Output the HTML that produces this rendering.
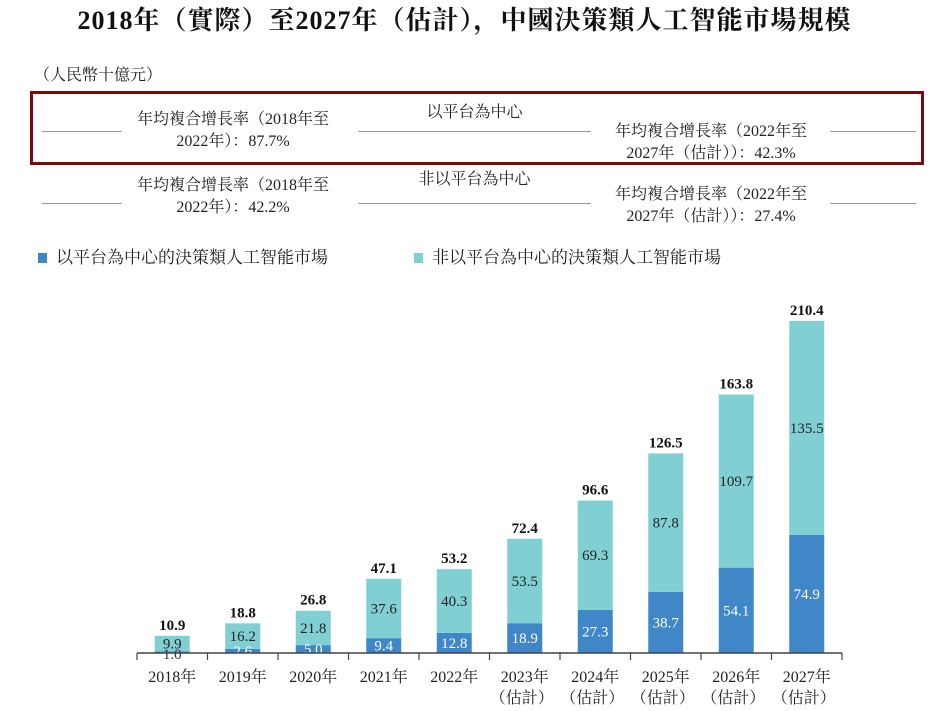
<!DOCTYPE html>
<html><head><meta charset="utf-8">
<style>
body{margin:0;width:929px;height:711px;background:#fff;overflow:hidden;font-family:"Liberation Serif","Noto Serif CJK SC",serif;color:#222;}
.a{position:absolute;white-space:nowrap;}
.ln{position:absolute;height:0;border-top:1px solid #999;}
.t{font-size:16px;line-height:22px;text-align:center;}
</style></head><body>
<div class="a" style="left:0;width:929px;top:0px;text-align:center;font-size:26px;letter-spacing:1px;font-weight:bold;color:#111;">2018年（實際）至2027年（估計），中國決策類人工智能市場規模</div>
<div class="a" style="left:34px;top:62px;font-size:16px;">（人民幣十億元）</div>
<div class="a" style="left:30px;top:91px;width:888px;height:68px;border:3px solid #7a0a0a;"></div>
<div class="ln" style="left:42px;width:80px;top:131px"></div>
<div class="ln" style="left:358px;width:233px;top:131px"></div>
<div class="ln" style="left:830px;width:86px;top:131px"></div>
<div class="ln" style="left:42px;width:80px;top:203px"></div>
<div class="ln" style="left:358px;width:233px;top:203px"></div>
<div class="ln" style="left:830px;width:86px;top:203px"></div>
<div class="a t" style="left:120px;width:226px;top:109px">年均複合增長率（2018年至<br>2022年）：87.7%</div>
<div class="a t" style="left:358px;width:233px;top:102px">以平台為中心</div>
<div class="a t" style="left:596px;width:230px;top:121px">年均複合增長率（2022年至<br>2027年（估計））：42.3%</div>
<div class="a t" style="left:120px;width:226px;top:175px">年均複合增長率（2018年至<br>2022年）：42.2%</div>
<div class="a t" style="left:358px;width:233px;top:169px">非以平台為中心</div>
<div class="a t" style="left:596px;width:230px;top:184px">年均複合增長率（2022年至<br>2027年（估計））：27.4%</div>
<div class="a" style="left:38px;top:243px;font-size:17px;"><span style="display:inline-block;width:9px;height:10px;background:#3f87c7;margin-right:9px;"></span>以平台為中心的決策類人工智能市場</div>
<div class="a" style="left:414px;top:243px;font-size:17px;"><span style="display:inline-block;width:9px;height:10px;background:#80d0d3;margin-right:9px;"></span>非以平台為中心的決策類人工智能市場</div>
<svg id="chart" width="929" height="711" style="position:absolute;left:0;top:0"></svg>
<script>
const categories=["2018年","2019年","2020年","2021年","2022年","2023年","2024年","2025年","2026年","2027年"];
const estimated=[false,false,false,false,false,true,true,true,true,true];
const platform=[1.0,2.6,5.0,9.4,12.8,18.9,27.3,38.7,54.1,74.9];
const nonPlatform=[9.9,16.2,21.8,37.6,40.3,53.5,69.3,87.8,109.7,135.5];
const totals=[10.9,18.8,26.8,47.1,53.2,72.4,96.6,126.5,163.8,210.4];
const svg=document.getElementById('chart');
const NS="http://www.w3.org/2000/svg";
const x0=137,step=70.5,base=653,k=332/210.4,bw=35;
const xC=i=>x0+step*(i+0.5);
const yS=v=>base-v*k;
function mk(t,a){const e=document.createElementNS(NS,t);for(const n in a)e.setAttribute(n,a[n]);svg.appendChild(e);return e;}
function txt(s,x,y,a){const e=mk('text',Object.assign({x:x,y:y,'text-anchor':'middle','font-family':'"Liberation Serif","Noto Serif CJK SC",serif','font-size':15},a));e.textContent=s;return e;}
categories.forEach((c,i)=>{
  const cx=xC(i),p=platform[i],n=nonPlatform[i];
  const r1=mk('rect',{x:cx-bw/2,y:yS(p),width:bw,height:p*k,fill:'#3f87c7'});
  
  
  const r2=mk('rect',{x:cx-bw/2,y:yS(p+n),width:bw,height:n*k,fill:'#80d0d3'});
  
  
  const small=p*k<3;
  const pm=small?base+6:yS(p/2)+5;
  const t1=txt(p.toFixed(1),cx,pm,{fill:small?'#333':'#fff'});
  
  
  const t2=txt(n.toFixed(1),cx,yS(p+n/2)+5,{fill:'#222'});
  
  
  const t3=txt(totals[i].toFixed(1),cx,yS(p+n)-6,{'font-weight':'bold',fill:'#111'});
  
  
  const l=txt(c,cx,base+29,{'font-size':16,fill:'#222'});
  
  
  if(estimated[i]){const e=txt('（估計）',cx-3,base+50,{'font-size':16,fill:'#222'});
    
    }
});
const ax=mk('line',{x1:x0,x2:x0+step*categories.length,y1:base,y2:base,stroke:'#444','stroke-width':1.5});


for(let i=0;i<=categories.length;i++){
  const tk=mk('line',{x1:x0+step*i,x2:x0+step*i,y1:base,y2:base+7,stroke:'#444','stroke-width':1.2});
  
  
}
</script>
</body></html>
